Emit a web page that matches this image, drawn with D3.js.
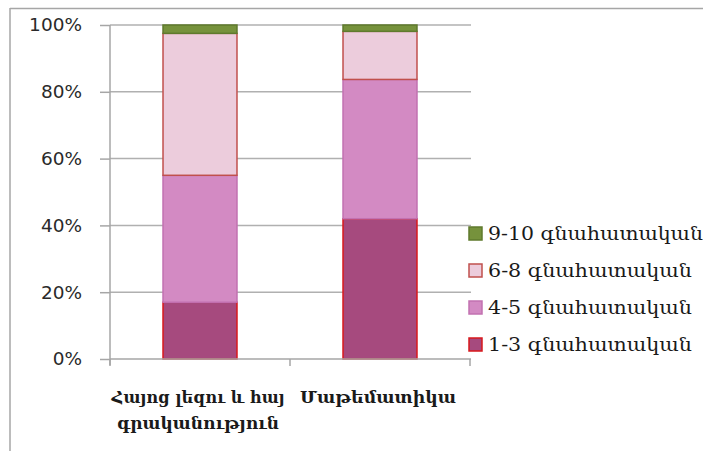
<!DOCTYPE html>
<html>
<head>
<meta charset="utf-8">
<script src="https://cdn.jsdelivr.net/npm/d3@7"></script>
<style>
  html, body { margin: 0; padding: 0; background: #fff; }
  svg { display: block; }
</style>
</head>
<body>
<svg id="chart" width="703" height="451"></svg>
<script>
// ---- data ----
const categories = ["Հայոց լեզու և հայ գրականություն", "Մաթեմատիկա"];
const categoryLines = [["Հայոց լեզու և հայ", "գրականություն"], ["Մաթեմատիկա"]];
const seriesNames = ["1-3 գնահատական", "4-5 գնահատական", "6-8 գնահատական", "9-10 գնահատական"];
const grade1_3 = [17, 42];
const grade4_5 = [38, 41.7];
const grade6_8 = [42.5, 14.4];
const grade9_10 = [2.5, 1.9];
const yTicks = [0, 0.2, 0.4, 0.6, 0.8, 1.0];

// ---- styles ----
const fills = ["#a64a7e", "#d38ac3", "#ecccdc", "#76923c"];
const strokes = ["#d8181c", "#c271b1", "#c0504d", "#5f7a2d"];
const armFont = "'DejaVu Serif', 'DejaVu Sans', serif";

const svg = d3.select("#chart");

// outer frame
svg.append("line").attr("x1", 10).attr("x2", 703).attr("y1", 8.5).attr("y2", 8.5)
  .attr("stroke", "#a6a6a6").attr("stroke-width", 1.5);
svg.append("line").attr("x1", 10).attr("x2", 10).attr("y1", 8).attr("y2", 451)
  .attr("stroke", "#a6a6a6").attr("stroke-width", 1.5);

const x0 = 110, x1 = 470, yTop = 25, yBot = 359;
const x = d3.scaleBand().domain(categories).range([x0, x1]).paddingInner(0.589).paddingOuter(0.2945);
const y = d3.scaleLinear().domain([0, 1]).range([yBot, yTop]);

// gridlines
svg.append("g").selectAll("line").data(yTicks.filter(t => t > 0)).join("line")
  .attr("x1", x0).attr("x2", x1 + 1).attr("y1", d => y(d)).attr("y2", d => y(d))
  .attr("stroke", "#b0b0b0").attr("stroke-width", 1.5);

// stacked data
const table = categories.map((c, i) => ({
  cat: c,
  s0: grade1_3[i] / 100, s1: grade4_5[i] / 100, s2: grade6_8[i] / 100, s3: grade9_10[i] / 100
}));
const stack = d3.stack().keys(["s0", "s1", "s2", "s3"]);
const stacked = stack(table);

svg.append("g").selectAll("g").data(stacked).join("g")
  .attr("fill", (d, i) => fills[i]).attr("stroke", (d, i) => strokes[i]).attr("stroke-width", 1.5)
  .selectAll("rect").data(d => d).join("rect")
  .attr("x", d => x(d.data.cat))
  .attr("width", x.bandwidth())
  .attr("y", d => y(d[1]))
  .attr("height", d => y(d[0]) - y(d[1]));

// y axis
const yAxis = d3.axisLeft(y).tickValues(yTicks).tickFormat(d3.format(".0%")).tickSize(10).tickPadding(18);
const gy = svg.append("g").attr("transform", `translate(${x0},0)`).call(yAxis);
gy.select(".domain").attr("stroke", "#a6a6a6").attr("stroke-width", 1.5).attr("d", `M0,${yTop}V${yBot + 6}`);
gy.selectAll(".tick line").attr("stroke", "#a6a6a6").attr("stroke-width", 1.5);
gy.selectAll(".tick text").attr("fill", "#2a2a2a").style("font-family", "'DejaVu Sans', Verdana, sans-serif").style("font-size", "18.5px");

// x axis line with boundary ticks
svg.append("line").attr("x1", x0).attr("x2", x1 + 1).attr("y1", yBot).attr("y2", yBot)
  .attr("stroke", "#a6a6a6").attr("stroke-width", 1.5);
const bounds = [x0, (x(categories[0]) + x.bandwidth() + x(categories[1])) / 2, x1];
svg.append("g").selectAll("line").data(bounds).join("line")
  .attr("x1", d => d).attr("x2", d => d).attr("y1", yBot).attr("y2", yBot + 7)
  .attr("stroke", "#a6a6a6").attr("stroke-width", 1.5);

// category labels
const lineWidths = [[173, 162], [156]];
categories.forEach((c, i) => {
  const cx = x(c) + x.bandwidth() / 2;
  categoryLines[i].forEach((ln, j) => {
    svg.append("text")
      .attr("x", cx - 2).attr("y", 403 + j * 26)
      .attr("text-anchor", "middle")
      .attr("textLength", lineWidths[i][j]).attr("lengthAdjust", "spacingAndGlyphs")
      .style("font-family", armFont).style("font-size", "17px").style("font-weight", "bold")
      .attr("fill", "#1a1a1a")
      .text(ln);
  });
});

// legend (reverse order, top = 9-10)
const legendY = [345, 308, 271, 234];
const legendW = [204, 204, 204, 215];
const lg = svg.append("g");
seriesNames.forEach((name, i) => {
  const cy = legendY[i];
  lg.append("rect").attr("x", 469).attr("y", cy - 7).attr("width", 13).attr("height", 13)
    .attr("fill", fills[i]).attr("stroke", strokes[i]).attr("stroke-width", 1.5);
  lg.append("text").attr("x", 488).attr("y", cy + 6)
    .attr("textLength", legendW[i]).attr("lengthAdjust", "spacingAndGlyphs")
    .style("font-family", armFont).style("font-size", "18px")
    .attr("fill", "#1a1a1a")
    .text(name);
});
</script>
</body>
</html>
